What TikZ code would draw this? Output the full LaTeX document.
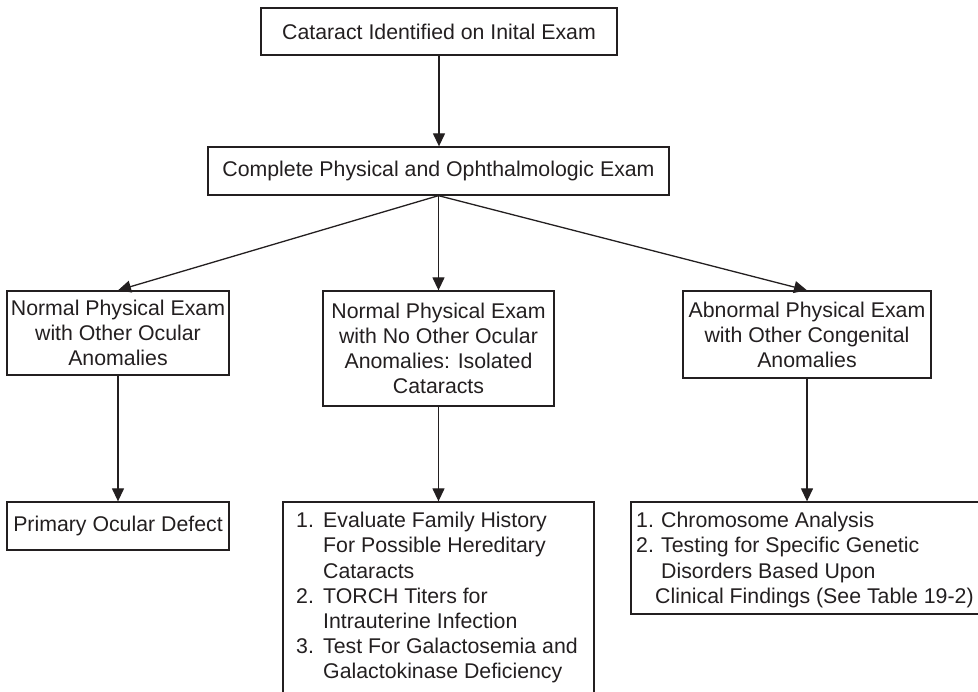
\documentclass[tikz,border=0pt]{standalone}
\usepackage{fontspec}
\setmainfont{Liberation Sans}
\usetikzlibrary{arrows.meta}
\definecolor{ink}{RGB}{35,31,32}
\begin{document}
\begin{tikzpicture}[x=1pt,y=-1pt,
  box/.style={draw=ink, line width=1.3pt, inner sep=0pt, align=center,
    font=\fontsize{21.3}{25}\selectfont, text=ink},
  txt/.style={inner sep=0pt, font=\fontsize{21.3}{25}\selectfont, text=ink},
  arr/.style={draw=ink, line width=1.3pt, -{Triangle[length=13pt,width=12pt]}}]
\clip (0,0) rectangle (978,692);
% boxes
\node[box, minimum width=356pt, minimum height=47pt] (top) at (439,31.5) {Cataract Identified on Inital Exam};
\node[box, minimum width=461pt, minimum height=48pt] (exam) at (438.5,171) {Complete Physical and Ophthalmologic Exam};
\node[box, minimum width=222pt, minimum height=84pt] (left) at (118,333) {Normal Physical Exam\\with Other Ocular\\Anomalies};
\node[box, minimum width=231pt, minimum height=115pt] (mid) at (438.5,348.5) {Normal Physical Exam\\with No Other Ocular\\Anomalies: Isolated\\Cataracts};
\node[box, minimum width=248pt, minimum height=87pt] (right) at (807,334.5) {Abnormal Physical Exam\\with Other Congenital\\Anomalies};
\node[box, minimum width=222pt, minimum height=48pt] (pod) at (118,526) {Primary Ocular Defect};
\node[box, minimum width=311pt, minimum height=250pt] (list1) at (438.5,627) {};
\node[box, minimum width=379pt, minimum height=112pt] (list2) at (820.5,558) {};
% list 1 text
\node[txt, anchor=base west] (n1) at (296,528) {1.};
\node[txt, anchor=base west] (n2) at (296,603) {2.};
\node[txt, anchor=base west] (n3) at (296,653) {3.};
\foreach \t [count=\i] in {Evaluate Family History, For Possible Hereditary, Cataracts,
  TORCH Titers for, Intrauterine Infection, Test For Galactosemia and, Galactokinase Deficiency}
  \node[txt, anchor=base west] (a\i) at (323,{528+25*(\i-1)}) {\t};
% list 2 text
\node[txt, anchor=base west] (m1) at (636,528) {1.};
\node[txt, anchor=base west] (m2) at (636,553) {2.};
\node[txt, anchor=base west] (b1) at (661,528) {Chromosome Analysis};
\node[txt, anchor=base west] (b2) at (661,553) {Testing for Specific Genetic};
\node[txt, anchor=base west] (b3) at (661,578) {Disorders Based Upon};
\node[txt, anchor=base west] (b4) at (655,603) {Clinical Findings (See Table 19-2)};
% connectors
\draw[arr] (top.south) -- (top.south |- exam.north);
\draw[arr] (exam.south) -- (left.north);
\draw[arr] (exam.south) -- (mid.north);
\draw[arr] (exam.south) -- (right.north);
\draw[arr] (left.south) -- (pod.north);
\draw[arr] (mid.south) -- (list1.north);
\draw[arr] (right.south) -- (right.south |- list2.north);
\end{tikzpicture}
\end{document}
